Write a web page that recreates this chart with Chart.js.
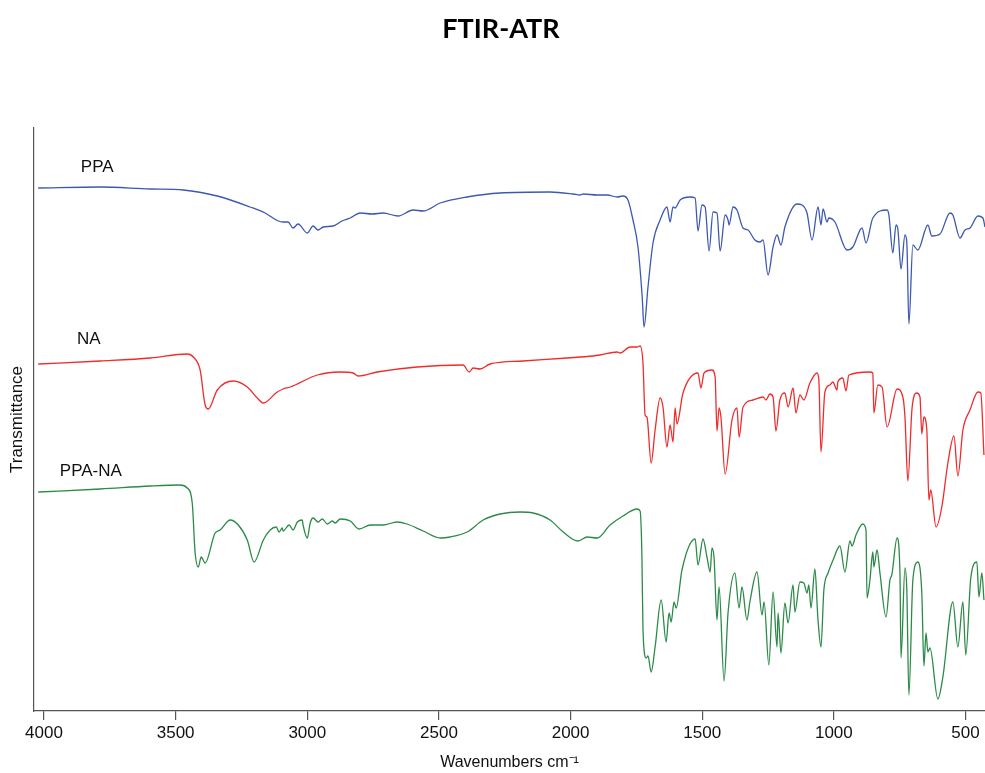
<!DOCTYPE html>
<html>
<head>
<meta charset="utf-8">
<title>FTIR-ATR</title>
<script src="https://cdn.jsdelivr.net/npm/chart.js@4.4.1/dist/chart.umd.min.js"></script>
<style>
  html, body { margin: 0; padding: 0; background: #fff; }
  canvas { display: block; }
</style>
</head>
<body>
<canvas id="chart_ftir" width="985" height="773"></canvas>
<script>
// Spectra: [wavenumber (cm-1), transmittance (a.u., curves stacked)]
const ppa = [
    [4022,523],[3786,524],[3596,522],[3471,521],[3342,515],[3217,504],[3160,498],[3110,490],
    [3092,489],[3073,489],[3054,483],[3035,487],[3000,478],[2978,485],[2959,481],[2940,484],
    [2902,485],[2868,490],[2837,493],[2799,498],[2754,497],[2712,498],[2655,495],[2598,501],
    [2560,500],[2495,508],[2393,514],[2268,518],[2078,519],[1990,517],[1964,516],[1952,517],
    [1899,516],[1861,516],[1823,514],[1801,515],[1782,511],[1763,491],[1744,464],[1728,414],
    [1721,384],[1706,424],[1687,468],[1660,491],[1634,504],[1622,489],[1611,504],[1603,503],
    [1584,511],[1546,514],[1527,513],[1516,480],[1501,506],[1489,504],[1474,460],[1459,499],
    [1444,498],[1432,460],[1413,496],[1402,491],[1398,486],[1383,504],[1368,501],[1345,483],
    [1326,481],[1300,471],[1281,469],[1269,471],[1250,436],[1231,464],[1216,476],[1201,466],
    [1186,484],[1140,507],[1121,506],[1102,498],[1083,471],[1060,504],[1049,486],[1041,502],
    [1026,489],[1019,493],[996,489],[950,461],[928,464],[893,483],[878,468],[852,493],
    [798,501],[791,496],[776,458],[764,486],[757,482],[745,442],[730,476],[723,469],
    [715,387],[700,466],[681,461],[643,486],[628,475],[597,477],[559,498],[548,496],
    [521,473],[502,481],[483,483],[453,495],[434,493],[426,484]
];

const na = [
    [4022,347],[3786,350],[3596,353],[3456,357],[3433,354],[3407,341],[3388,306],[3376,302],
    [3342,321],[3281,330],[3228,324],[3190,313],[3167,308],[3114,319],[3092,322],[3065,324],
    [2962,336],[2875,339],[2826,338],[2807,335],[2735,339],[2583,344],[2408,346],[2385,339],
    [2370,343],[2344,342],[2306,347],[2180,350],[2013,353],[1915,355],[1888,356],[1823,359],
    [1812,358],[1774,364],[1748,364],[1736,365],[1725,348],[1717,296],[1710,294],[1694,248],
    [1679,281],[1660,313],[1649,304],[1634,264],[1622,286],[1611,269],[1603,303],[1596,287],
    [1573,318],[1516,338],[1505,323],[1493,338],[1463,341],[1451,334],[1444,280],[1436,303],
    [1429,294],[1413,237],[1387,291],[1368,303],[1360,274],[1345,304],[1307,311],[1269,314],
    [1258,311],[1243,317],[1231,314],[1220,280],[1205,311],[1186,318],[1174,304],[1155,323],
    [1144,298],[1129,316],[1114,311],[1091,328],[1064,338],[1057,331],[1049,259],[1034,319],
    [1015,326],[1004,329],[988,321],[985,329],[966,333],[954,320],[943,336],[863,339],
    [852,338],[848,298],[833,326],[817,324],[798,284],[760,322],[738,314],[730,294],
    [719,230],[703,303],[685,318],[673,314],[666,277],[658,294],[647,281],[639,211],
    [632,221],[612,184],[590,204],[567,248],[544,275],[529,235],[510,281],[483,301],
    [453,319],[442,318],[430,256]
];

const ppaNa = [
    [4022,219],[3786,222],[3596,225],[3483,226],[3456,223],[3437,208],[3426,158],[3414,144],
    [3403,154],[3388,148],[3350,178],[3331,181],[3293,191],[3262,186],[3228,171],[3202,149],
    [3167,171],[3141,181],[3118,184],[3107,179],[3095,183],[3092,180],[3069,186],[3054,181],
    [3038,189],[3019,191],[3016,186],[3000,173],[2989,188],[2978,193],[2959,189],[2943,192],
    [2924,187],[2905,190],[2894,188],[2875,192],[2837,190],[2803,182],[2761,186],[2712,186],
    [2659,189],[2621,187],[2560,180],[2495,173],[2458,174],[2393,179],[2332,191],[2268,197],
    [2192,199],[2142,198],[2078,191],[2028,179],[1972,170],[1937,174],[1899,173],[1850,186],
    [1801,195],[1748,202],[1736,200],[1729,154],[1725,81],[1713,53],[1706,55],[1694,39],
    [1679,64],[1656,111],[1637,69],[1626,98],[1618,89],[1607,109],[1599,103],[1577,141],
    [1527,172],[1516,146],[1497,172],[1482,154],[1470,139],[1463,163],[1455,153],[1444,91],
    [1436,124],[1417,30],[1402,98],[1376,138],[1360,103],[1349,124],[1330,91],[1319,109],
    [1292,139],[1273,96],[1265,109],[1247,46],[1231,119],[1216,64],[1212,98],[1201,58],
    [1186,108],[1174,88],[1155,126],[1148,99],[1129,129],[1114,128],[1102,118],[1095,126],
    [1087,103],[1072,142],[1061,94],[1049,64],[1038,121],[1022,138],[1003,151],[977,165],
    [958,139],[939,170],[931,165],[916,176],[890,187],[878,181],[874,113],[863,131],
    [852,159],[848,144],[836,161],[825,138],[802,94],[787,131],[780,136],[760,173],
    [749,138],[745,53],[730,143],[723,121],[715,16],[700,131],[681,149],[666,118],
    [658,45],[650,78],[643,59],[635,63],[605,12],[586,34],[548,109],[529,64],
    [510,109],[499,56],[480,133],[457,149],[449,114],[438,138],[430,111]
];

const xTicks = [4000, 3500, 3000, 2500, 2000, 1500, 1000, 500];

// name labels placed next to each curve
const curveLabels = [
    { text: 'PPA', x: 3798, y: 544 },
    { text: 'NA', x: 3830, y: 372 },
    { text: 'PPA-NA', x: 3822, y: 240 }
];

const fuente = '"Liberation Sans", Arial, sans-serif';

const etiquetasCurvas = {
    id: 'etiquetasCurvas',
    afterDatasetsDraw(chart) {
        const ctx = chart.ctx;
        const sx = chart.scales.x;
        const sy = chart.scales.y;
        ctx.save();
        ctx.font = '17px ' + fuente;
        ctx.fillStyle = '#111';
        ctx.textAlign = 'center';
        ctx.textBaseline = 'middle';
        curveLabels.forEach(l => {
            ctx.fillText(l.text, sx.getPixelForValue(l.x), sy.getPixelForValue(l.y));
        });
        // titulo
        ctx.font = 'bold 27px Lato, "Open Sans", sans-serif';
        ctx.fillStyle = '#000';
        ctx.fillText('FTIR-ATR', 501, 29);
        ctx.restore();
    }
};

function toPoints(arr) {
    return arr.map(p => ({ x: p[0], y: p[1] }));
}

const ctx = document.getElementById('chart_ftir').getContext('2d');

new Chart(ctx, {
    type: 'line',
    data: {
        datasets: [
            { label: 'PPA', data: toPoints(ppa), borderColor: '#3d58b0', borderWidth: 1.3 },
            { label: 'NA', data: toPoints(na), borderColor: '#ef2b2b', borderWidth: 1.3 },
            { label: 'PPA-NA', data: toPoints(ppaNa), borderColor: '#2b8a48', borderWidth: 1.3 }
        ]
    },
    options: {
        responsive: false,
        animation: false,
        devicePixelRatio: 1,
        layout: { padding: { top: 128 } },
        elements: {
            point: { radius: 0 },
            line: { cubicInterpolationMode: 'monotone', borderJoinStyle: 'round' }
        },
        plugins: {
            legend: { display: false },
            tooltip: { enabled: false },
            title: { display: false }
        },
        scales: {
            x: {
                type: 'linear',
                reverse: true,
                min: 426,
                max: 4038,
                afterBuildTicks: scale => { scale.ticks = xTicks.map(v => ({ value: v })); },
                afterFit: scale => { scale.height = 62; },
                grid: { display: true, drawOnChartArea: false, drawTicks: true, tickLength: 9, color: '#555', lineWidth: 1.2 },
                border: { display: true, color: '#555', width: 1.2 },
                ticks: {
                    color: '#111',
                    font: { family: fuente, size: 17 },
                    padding: 3,
                    maxRotation: 0,
                    callback: v => String(v)
                },
                title: {
                    display: true,
                    text: 'Wavenumbers cm⁻¹',
                    color: '#111',
                    font: { family: fuente, size: 16 },
                    padding: { top: 4, bottom: 1 }
                }
            },
            y: {
                type: 'linear',
                min: 0,
                max: 583,
                afterFit: scale => { scale.width = 34; },
                grid: { display: false },
                border: { display: true, color: '#555', width: 1.2 },
                ticks: { display: false },
                title: {
                    display: true,
                    text: 'Transmittance',
                    color: '#111',
                    font: { family: fuente, size: 17 },
                    padding: { top: 7, bottom: 0 }
                }
            }
        }
    },
    plugins: [etiquetasCurvas]
});
</script>
</body>
</html>
